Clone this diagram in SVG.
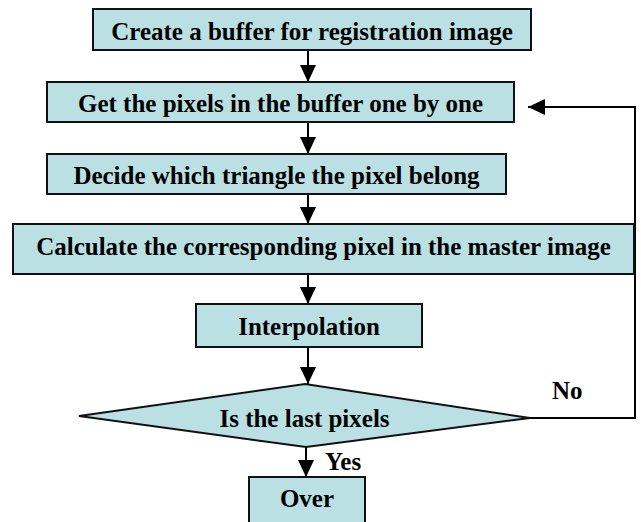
<svg xmlns="http://www.w3.org/2000/svg" width="641" height="522" viewBox="0 0 641 522">
  <style>
    .box { fill: #bae0e4; stroke: #111; stroke-width: 2; }
    .lbl { font-family: 'Liberation Serif', 'Times New Roman', 'DejaVu Serif', serif; font-weight: 700; font-size: 25px; fill: #000; text-anchor: middle; }
    .tag { font-family: 'Liberation Serif', 'Times New Roman', 'DejaVu Serif', serif; font-weight: 700; font-size: 25px; fill: #000; }
    .wire { fill: none; stroke: #000; stroke-width: 2; }
  </style>
  <defs>
    <marker id="head" markerUnits="userSpaceOnUse" markerWidth="18" markerHeight="18" viewBox="0 0 18 18" refX="17" refY="8" orient="auto">
      <path d="M0,0 L17,8 L0,16 Z" fill="#000"/>
    </marker>
  </defs>

  <rect width="641" height="522" fill="#fff"/>

  <g id="connectors">
    <line class="wire" x1="308" y1="50" x2="308" y2="82" marker-end="url(#head)"/>
    <line class="wire" x1="308" y1="122" x2="308" y2="154" marker-end="url(#head)"/>
    <line class="wire" x1="308" y1="194" x2="308" y2="224" marker-end="url(#head)"/>
    <line class="wire" x1="308" y1="274" x2="308" y2="304" marker-end="url(#head)"/>
    <line class="wire" x1="308" y1="347" x2="308" y2="384" marker-end="url(#head)"/>
    <line class="wire" x1="306" y1="447" x2="306" y2="477" marker-end="url(#head)"/>
    <polyline class="wire" points="530,418 635,418 635,107 528,107" marker-end="url(#head)"/>
    <text class="tag" x="325" y="470" font-family="Liberation Serif, serif">Yes</text>
    <text class="tag" x="552" y="399" font-family="Liberation Serif, serif">No</text>
  </g>

  <g id="create-buffer">
    <rect class="box" x="93" y="9" width="438" height="41"/>
    <text class="lbl" x="312" y="40">Create a buffer for registration image</text>
  </g>

  <g id="get-pixels">
    <rect class="box" x="47" y="82" width="467" height="40"/>
    <text class="lbl" x="280.5" y="112">Get the pixels in the buffer one by one</text>
  </g>

  <g id="decide-triangle">
    <rect class="box" x="47" y="154" width="459" height="40"/>
    <text class="lbl" x="276.5" y="184">Decide which triangle the pixel belong</text>
  </g>

  <g id="calculate-pixel">
    <rect class="box" x="13" y="224" width="621" height="50"/>
    <text class="lbl" x="323.5" y="255">Calculate the corresponding pixel in the master image</text>
  </g>

  <g id="interpolation">
    <rect class="box" x="196" y="304" width="226" height="43"/>
    <text class="lbl" x="309" y="335">Interpolation</text>
  </g>

  <g id="is-last-pixel">
    <polygon class="box" points="79,416 305,384 530,418 306,447"/>
    <text class="lbl" x="304.5" y="427">Is the last pixels</text>
  </g>

  <g id="over">
    <rect class="box" x="249" y="477" width="116" height="55"/>
    <text class="lbl" x="307" y="507">Over</text>
  </g>
</svg>
